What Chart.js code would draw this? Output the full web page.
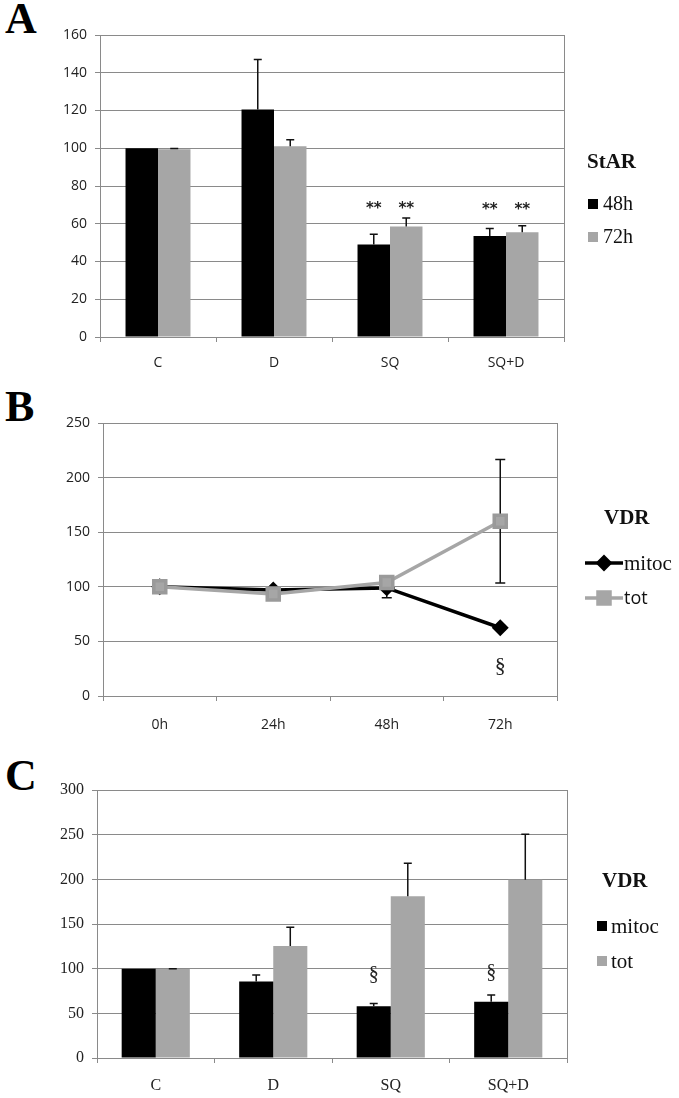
<!DOCTYPE html>
<html>
<head>
<meta charset="utf-8">
<script src="https://cdn.jsdelivr.net/npm/chart.js@4.4.1/dist/chart.umd.min.js"></script>
<style>
    body { margin: 0; background: #fff; width: 679px; height: 1098px; position: relative; overflow: hidden; }
    canvas { position: absolute; left: 0; }
    .panel { position: absolute; left: 5px; font: bold 44px "Liberation Serif"; line-height: 1; color: #000; }
</style>
</head>
<body>
<div class="panel" style="top:-3px">A</div>
<div class="panel" style="top:385px">B</div>
<div class="panel" style="top:754px">C</div>
<canvas id="chartA" width="679" height="375" style="top:0"></canvas>
<canvas id="chartB" width="679" height="360" style="top:375px"></canvas>
<canvas id="chartC" width="679" height="363" style="top:735px"></canvas>
<script>
// Panel A - StAR
const starGroups = ['C', 'D', 'SQ', 'SQ+D'];
const star48 = [100, 120.5, 49, 53.5];
const star72 = [99.5, 101, 58.5, 55.5];
const star48Err = [0, 26.5, 5.5, 4];
const star72Err = [0.4, 3.5, 4.5, 3.5];
const starMarks = ['', '', '**', '**'];
const starMarkY = [null, null, 68, 67];

// Panel B - VDR time course
const vdrTimes = ['0h', '24h', '48h', '72h'];
const vdrMitoc = [100, 97, 99, 62.5];
const vdrTot = [100, 93.5, 104, 160];
const vdrMitocErr = [0, 2, 9, 2];
const vdrTotErr = [0, 2, 3, 56.5];
const vdrMitocMarks = ['', '', '', '§'];
const vdrMitocMarkY = [null, null, null, 27];

// Panel C - VDR treatments
const vdrGroups = ['C', 'D', 'SQ', 'SQ+D'];
const vdrMitocC = [100, 85.5, 58, 63];
const vdrTotC = [99.5, 125.5, 181, 199.5];
const vdrMitocCErr = [0, 7.5, 3, 7.5];
const vdrTotCErr = [0.4, 21, 37, 51];
const vdrMitocCMarks = ['', '', '§', '§'];
const vdrMitocCMarkY = [null, null, 93, 95];

const gridColor = '#8a8a8a';
const textColor = '#222';
const greyFill = '#a6a6a6';

// error bars, drawn from each dataset's "errors" array
function errorBars(both, behind) {
    function draw(chart) {
        const ctx = chart.ctx, y = chart.scales.y;
        chart.data.datasets.forEach((ds, i) => {
            if (!ds.errors) return;
            chart.getDatasetMeta(i).data.forEach((el, j) => {
                const e = ds.errors[j];
                if (!e) return;
                const v = ds.data[j];
                const top = y.getPixelForValue(v + e);
                const bot = y.getPixelForValue(both ? v - e : v);
                const cap = both ? 5 : 4;
                ctx.save();
                ctx.strokeStyle = '#111';
                ctx.lineWidth = 1.5;
                ctx.beginPath();
                ctx.moveTo(el.x, top); ctx.lineTo(el.x, bot);
                ctx.moveTo(el.x - cap, top); ctx.lineTo(el.x + cap, top);
                if (both) { ctx.moveTo(el.x - cap, bot); ctx.lineTo(el.x + cap, bot); }
                ctx.stroke();
                ctx.restore();
            });
        });
    }
    return {
        id: 'errorBars',
        beforeDatasetsDraw(chart) { if (behind) draw(chart); },
        afterDatasetsDraw(chart) { if (!behind) draw(chart); }
    };
}

// significance marks (** and §)
function sigMarks(font) {
    return {
        id: 'sigMarks',
        afterDatasetsDraw(chart) {
            const ctx = chart.ctx, y = chart.scales.y;
            chart.data.datasets.forEach((ds, i) => {
                if (!ds.marks) return;
                chart.getDatasetMeta(i).data.forEach((el, j) => {
                    if (!ds.marks[j]) return;
                    ctx.save();
                    ctx.font = font;
                    ctx.fillStyle = '#222';
                    ctx.textAlign = 'center';
                    ctx.textBaseline = 'middle';
                    ctx.fillText(ds.marks[j], el.x, y.getPixelForValue(ds.markY[j]));
                    ctx.restore();
                });
            });
        }
    };
}

// right border of the plot box
const frame = {
    id: 'frame',
    afterDraw(chart) {
        const a = chart.chartArea, ctx = chart.ctx;
        ctx.save();
        ctx.strokeStyle = gridColor;
        ctx.lineWidth = 1;
        ctx.beginPath();
        ctx.moveTo(a.right + 0.5, a.top);
        ctx.lineTo(a.right + 0.5, a.bottom);
        ctx.stroke();
        ctx.restore();
    }
};

// legend with a bold title, boxes or line+marker samples
function sideLegend(cfg) {
    return {
        id: 'sideLegend',
        afterDraw(chart) {
            const ctx = chart.ctx;
            ctx.save();
            ctx.textBaseline = 'middle';
            ctx.textAlign = 'left';
            ctx.fillStyle = '#111';
            ctx.font = 'bold 21px "Liberation Serif"';
            ctx.fillText(cfg.title, cfg.titleX, cfg.titleY);
            chart.data.datasets.forEach((ds, i) => {
                const y = cfg.itemY[i];
                if (cfg.kind === 'box') {
                    ctx.fillStyle = ds.backgroundColor;
                    ctx.fillRect(cfg.x, y - 5, 10, 10);
                    ctx.fillStyle = '#111';
                    ctx.font = cfg.fonts[i];
                    ctx.fillText(ds.label, cfg.x + cfg.textGap, y + 1);
                } else {
                    ctx.strokeStyle = ds.borderColor;
                    ctx.lineWidth = 3.5;
                    ctx.beginPath();
                    ctx.moveTo(cfg.x, y); ctx.lineTo(cfg.x + 38, y);
                    ctx.stroke();
                    Chart.helpers.drawPoint(ctx, {
                        pointStyle: ds.pointStyle, radius: ds.pointRadius, borderWidth: 1
                    }, cfg.x + 19, y);
                    ctx.fillStyle = ds.pointBackgroundColor;
                    ctx.strokeStyle = ds.pointBorderColor;
                    ctx.fill();
                    ctx.fillStyle = '#111';
                    ctx.font = cfg.fonts[i];
                    ctx.fillText(ds.label, cfg.x + 39, y + 1);
                }
            });
            ctx.restore();
        }
    };
}

function xAxis(font, pad, height) {
    return {
        offset: true,
        grid: { offset: true, drawOnChartArea: false, tickLength: 5, color: gridColor },
        border: { color: gridColor },
        ticks: { font: font, color: textColor, padding: pad },
        afterFit(s) { s.height = height; }
    };
}

function yAxis(max, step, font, width) {
    return {
        min: 0, max: max,
        ticks: { stepSize: step, font: font, color: textColor, padding: 8 },
        grid: { color: gridColor, tickLength: 5 },
        border: { color: gridColor },
        afterFit(s) { s.width = width; }
    };
}

const sans = { family: 'Open Sans', size: 14 };
const serif = { family: 'Liberation Serif', size: 16 };

// Creating chart A
new Chart(document.getElementById('chartA'), {
    type: 'bar',
    data: {
        labels: starGroups,
        datasets: [
            { label: '48h', data: star48, errors: star48Err, marks: starMarks, markY: starMarkY, backgroundColor: '#000' },
            { label: '72h', data: star72, errors: star72Err, marks: starMarks, markY: starMarkY, backgroundColor: greyFill }
        ]
    },
    options: {
        responsive: false,
        animation: false,
        layout: { padding: { left: 0, right: 115, top: 35, bottom: 0 } },
        datasets: { bar: { categoryPercentage: 0.56, barPercentage: 1 } },
        scales: { x: xAxis(sans, 13, 38), y: yAxis(160, 20, sans, 100) },
        plugins: { legend: { display: false }, tooltip: { enabled: false } }
    },
    plugins: [errorBars(false, false), sigMarks('bold 15px "DejaVu Sans"'), frame,
        sideLegend({ title: 'StAR', titleX: 587, titleY: 163, kind: 'box', x: 588, textGap: 15,
            itemY: [204, 237], fonts: ['20px "Liberation Serif"', '20px "Liberation Serif"'] })]
});

// Creating chart B
new Chart(document.getElementById('chartB'), {
    type: 'line',
    data: {
        labels: vdrTimes,
        datasets: [
            { label: 'mitoc', data: vdrMitoc, errors: vdrMitocErr, marks: vdrMitocMarks, markY: vdrMitocMarkY,
              borderColor: '#000', backgroundColor: '#000', borderWidth: 3.5, pointStyle: 'rectRot', pointRadius: 6,
              pointBackgroundColor: '#000', pointBorderColor: '#000', tension: 0, order: 1 },
            { label: 'tot', data: vdrTot, errors: vdrTotErr,
              borderColor: greyFill, backgroundColor: greyFill, borderWidth: 3.5, pointStyle: 'rect', pointRadius: 8.5,
              pointBackgroundColor: greyFill, pointBorderColor: '#9a9a9a', tension: 0, order: 0 }
        ]
    },
    options: {
        responsive: false,
        animation: false,
        layout: { padding: { left: 0, right: 122, top: 48, bottom: 0 } },
        scales: { x: xAxis(sans, 16, 39), y: yAxis(250, 50, sans, 103) },
        plugins: { legend: { display: false }, tooltip: { enabled: false } }
    },
    plugins: [errorBars(true, true), sigMarks('22px "Liberation Serif"'), frame,
        sideLegend({ title: 'VDR', titleX: 604, titleY: 144, kind: 'line', x: 585,
            itemY: [188, 223], fonts: ['21px "Liberation Serif"', '18px "Open Sans"'] })]
});

// Creating chart C
new Chart(document.getElementById('chartC'), {
    type: 'bar',
    data: {
        labels: vdrGroups,
        datasets: [
            { label: 'mitoc', data: vdrMitocC, errors: vdrMitocCErr, marks: vdrMitocCMarks, markY: vdrMitocCMarkY, backgroundColor: '#000' },
            { label: 'tot', data: vdrTotC, errors: vdrTotCErr, backgroundColor: greyFill }
        ]
    },
    options: {
        responsive: false,
        animation: false,
        layout: { padding: { left: 0, right: 112, top: 55, bottom: 0 } },
        datasets: { bar: { categoryPercentage: 0.58, barPercentage: 1 } },
        scales: { x: xAxis(serif, 13, 40), y: yAxis(300, 50, serif, 97) },
        plugins: { legend: { display: false }, tooltip: { enabled: false } }
    },
    plugins: [errorBars(false, false), sigMarks('20px "Liberation Serif"'), frame,
        sideLegend({ title: 'VDR', titleX: 602, titleY: 147, kind: 'box', x: 597, textGap: 14,
            itemY: [191, 226], fonts: ['21px "Liberation Serif"', '21px "Liberation Serif"'] })]
});
</script>
</body>
</html>
